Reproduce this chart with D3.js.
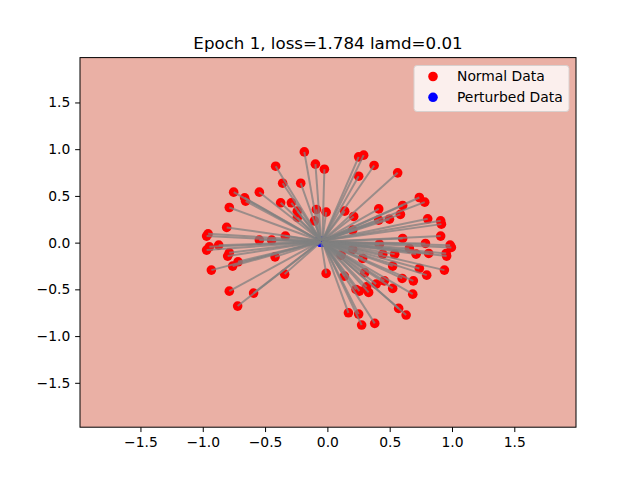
<!DOCTYPE html>
<html>
<head>
<meta charset="utf-8">
<script src="https://cdn.jsdelivr.net/npm/d3@7"></script>
<style>
  body { margin: 0; background: #fff; }
  svg { font-family: "DejaVu Sans", sans-serif; }
</style>
</head>
<body>
<svg id="chart" width="640" height="480"></svg>
<script>
// normal data
const normalX = [-0.185, -0.415, -0.096, -0.024, -0.359, -0.214, -0.752, -0.664, -0.656, -0.546,
  -0.787, -0.375, -0.289, -0.241, -0.241, -0.088, -0.010, -0.104, -0.808, -0.957,
  -0.969, -0.546, -0.447, -0.337, -0.947, -0.872, -0.969, -0.787, -0.800, -0.717,
  -0.760, -0.420, -0.931, -0.343, -0.010, -0.787, -0.592, -0.720,
  0.251, 0.291, 0.375, 0.251, 0.564, 0.738, 0.781, 0.139, 0.211, 0.412,
  0.604, 0.586, 0.498, 0.412, 0.805, 0.909, 0.915, 0.203, 0.604, 0.909,
  0.787, 0.985, 0.995, 0.417, 0.658, 0.712, 0.813, 0.953, 0.957, 0.444,
  0.540, 0.283, 0.203, 0.110, 0.524, 0.738, 0.797, 0.939, 0.136, 0.299,
  0.600, 0.690, 0.457, 0.391, 0.315, 0.230, 0.257, 0.331, 0.524, 0.685,
  0.572, 0.632, 0.169, 0.251, 0.275, 0.380];
const normalY = [0.971, 0.818, 0.840, 0.786, 0.636, 0.636, 0.540, 0.479, 0.444, 0.540,
  0.376, 0.426, 0.426, 0.337, 0.270, 0.355, 0.326, 0.233, 0.163, 0.094,
  0.070, 0.027, 0.027, 0.070, -0.045, -0.027, -0.080, -0.109, -0.144, -0.205,
  -0.251, -0.152, -0.294, -0.337, -0.329, -0.519, -0.540, -0.679,
  0.918, 0.936, 0.826, 0.711, 0.747, 0.483, 0.433, 0.337, 0.280, 0.361,
  0.398, 0.302, 0.251, 0.241, 0.255, 0.233, 0.198, 0.134, 0.045, 0.070,
  -0.009, -0.027, -0.051, -0.016, -0.062, -0.123, -0.116, -0.116, -0.144, -0.123,
  -0.123, -0.169, -0.073, -0.134, -0.251, -0.276, -0.348, -0.294, -0.358, -0.323,
  -0.383, -0.409, -0.409, -0.444, -0.473, -0.501, -0.519, -0.533, -0.490, -0.551,
  -0.704, -0.775, -0.751, -0.765, -0.882, -0.864];
// perturbed data: all collapsed near the origin
const perturbedX = [-0.06, -0.05, -0.05, -0.04, -0.05, -0.05, -0.06, -0.06, -0.06, -0.05,
  -0.06, -0.05, -0.05, -0.05, -0.05, -0.05, -0.04, -0.05, -0.06, -0.06,
  -0.06, -0.06, -0.05, -0.05, -0.06, -0.06, -0.06, -0.06, -0.06, -0.06,
  -0.06, -0.05, -0.06, -0.05, -0.05, -0.06, -0.06, -0.06,
  -0.04, -0.04, -0.04, -0.04, -0.04, -0.04, -0.04, -0.04, -0.04, -0.04,
  -0.04, -0.04, -0.04, -0.04, -0.04, -0.04, -0.04, -0.04, -0.04, -0.04,
  -0.04, -0.04, -0.04, -0.04, -0.04, -0.04, -0.04, -0.04, -0.04, -0.04,
  -0.04, -0.04, -0.04, -0.04, -0.04, -0.04, -0.04, -0.04, -0.04, -0.04,
  -0.04, -0.04, -0.04, -0.04, -0.04, -0.04, -0.04, -0.04, -0.04, -0.04,
  -0.04, -0.04, -0.04, -0.04, -0.04, -0.04];
const perturbedY = [0.02, 0.02, 0.02, 0.02, 0.02, 0.02, 0.02, 0.02, 0.02, 0.02,
  0.02, 0.02, 0.02, 0.02, 0.02, 0.02, 0.02, 0.02, 0.02, 0.02,
  0.01, 0.01, 0.01, 0.01, 0.01, 0.01, 0.01, 0.01, 0.01, 0.01,
  0.01, 0.01, 0.01, 0.01, 0.01, 0.01, 0.01, 0.01,
  0.02, 0.02, 0.02, 0.02, 0.02, 0.02, 0.02, 0.02, 0.02, 0.02,
  0.02, 0.02, 0.02, 0.02, 0.02, 0.02, 0.02, 0.02, 0.01, 0.01,
  0.01, 0.01, 0.01, 0.01, 0.01, 0.01, 0.01, 0.01, 0.01, 0.01,
  0.01, 0.01, 0.01, 0.01, 0.01, 0.01, 0.01, 0.01, 0.01, 0.01,
  0.01, 0.01, 0.01, 0.01, 0.01, 0.01, 0.01, 0.01, 0.01, 0.01,
  0.01, 0.01, 0.01, 0.01, 0.01, 0.01];
const xTicks = [-1.5, -1.0, -0.5, 0.0, 0.5, 1.0, 1.5];
const yTicks = [-1.5, -1.0, -0.5, 0.0, 0.5, 1.0, 1.5];
const xLim = [-1.985, 1.995];
const yLim = [-1.975, 1.98];
const titleText = "Epoch 1, loss=1.784 lamd=0.01";
const legendLabels = ["Normal Data", "Perturbed Data"];
const legendColors = ["red", "blue"];

const svg = d3.select("#chart");
const m = {left: 80, right: 576, top: 57.6, bottom: 427.2};
const x = d3.scaleLinear().domain(xLim).range([m.left, m.right]);
const y = d3.scaleLinear().domain(yLim).range([m.bottom, m.top]);
const fmt = d => d3.format(".1f")(d).replace("-", "\u2212");
const fs = 13.89;

// decision region background
svg.append("rect")
    .attr("x", m.left).attr("y", m.top)
    .attr("width", m.right - m.left).attr("height", m.bottom - m.top)
    .attr("fill", "#eab0a5");

const pts = normalX.map((v, i) => ({x: v, y: normalY[i], px: perturbedX[i], py: perturbedY[i]}));

const plot = svg.append("g");
plot.selectAll(".normal").data(pts).join("circle")
    .attr("class", "normal")
    .attr("cx", d => x(d.x)).attr("cy", d => y(d.y))
    .attr("r", 4.8).attr("fill", "red");
plot.selectAll(".pert").data(pts).join("circle")
    .attr("class", "pert")
    .attr("cx", d => x(d.px)).attr("cy", d => y(d.py))
    .attr("r", 4.8).attr("fill", "blue");
plot.selectAll(".link").data(pts).join("line")
    .attr("class", "link")
    .attr("x1", d => x(d.x)).attr("y1", d => y(d.y))
    .attr("x2", d => x(d.px)).attr("y2", d => y(d.py))
    .attr("stroke", "gray").attr("stroke-opacity", 0.75)
    .attr("stroke-width", 2);

// axes
const xAxis = svg.append("g")
    .attr("transform", `translate(0,${m.bottom})`)
    .call(d3.axisBottom(x).tickValues(xTicks).tickFormat(fmt).tickSizeInner(4.86).tickSizeOuter(0).tickPadding(4.86));
const yAxis = svg.append("g")
    .attr("transform", `translate(${m.left},0)`)
    .call(d3.axisLeft(y).tickValues(yTicks).tickFormat(fmt).tickSizeInner(4.86).tickSizeOuter(0).tickPadding(4.86));
[xAxis, yAxis].forEach(a => {
  a.select(".domain").remove();
  a.selectAll("text").attr("font-size", fs).attr("fill", "#000").attr("font-family", "DejaVu Sans");
  a.selectAll("line").attr("stroke", "#000").attr("stroke-width", 1);
});

// frame
svg.append("rect")
    .attr("x", m.left).attr("y", m.top)
    .attr("width", m.right - m.left).attr("height", m.bottom - m.top)
    .attr("fill", "none").attr("stroke", "#000").attr("stroke-width", 1);

svg.append("text")
    .attr("x", (m.left + m.right) / 2).attr("y", 49)
    .attr("text-anchor", "middle").attr("font-size", 16.67)
    .text(titleText);

// legend
const lg = svg.append("g").attr("transform", "translate(414,65.5)");
lg.append("rect")
    .attr("width", 155).attr("height", 46).attr("rx", 3)
    .attr("fill", "#fbefed").attr("stroke", "#d8d0ce").attr("stroke-width", 1);
legendLabels.forEach((t, i) => {
  lg.append("circle").attr("cx", 19).attr("cy", 11 + i * 20.8).attr("r", 4.8).attr("fill", legendColors[i]);
  lg.append("text").attr("x", 43).attr("y", 15.8 + i * 20.8)
      .attr("font-size", fs).text(t);
});
</script>
</body>
</html>
